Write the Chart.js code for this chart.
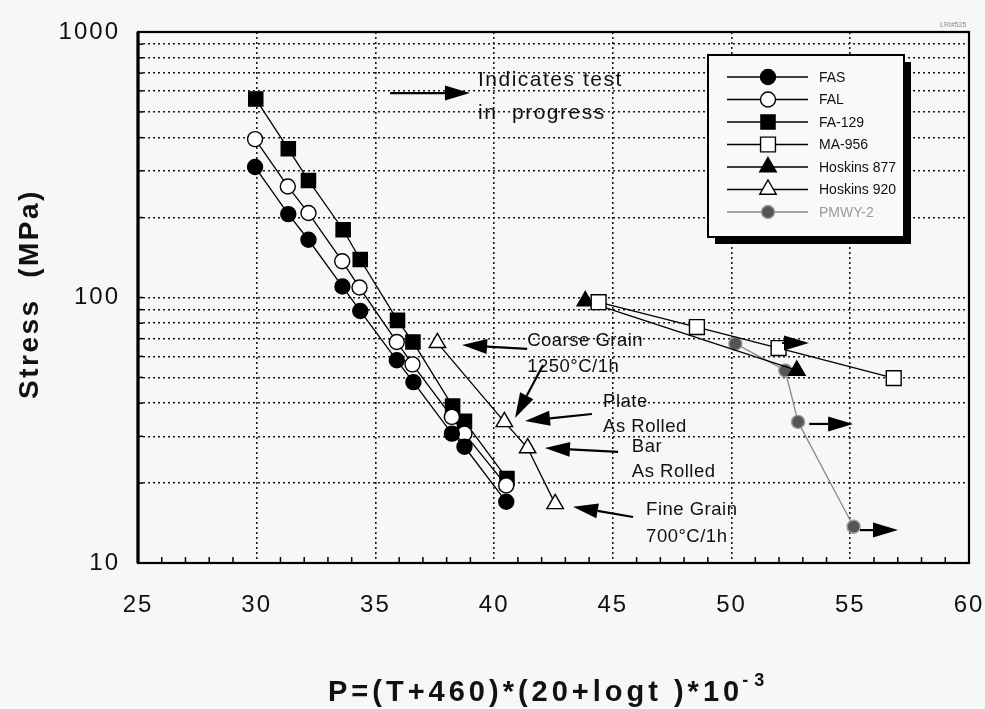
<!DOCTYPE html>
<html><head><meta charset="utf-8">
<script src="https://cdn.jsdelivr.net/npm/chart.js@4.4.1/dist/chart.umd.min.js"></script>
<style>html,body{margin:0;padding:0;background:#f7f7f7;}#wrap{width:985px;height:709px;}</style>
</head><body><div id="wrap"><canvas id="c" width="985" height="709"></canvas></div>
<script>
// ---------- data ----------
const xTicks = [25, 30, 35, 40, 45, 50, 55, 60];
const yTickLabels = [10, 100, 1000];
const yGrid = [10, 20, 30, 40, 50, 60, 70, 80, 90, 100, 200, 300, 400, 500, 600, 700, 800, 900, 1000];
const seriesNames = ['FAS', 'FAL', 'FA-129', 'MA-956', 'Hoskins 877', 'Hoskins 920', 'PMWY-2'];

const fasX = [29.93, 31.33, 32.18, 33.61, 34.36, 35.9, 36.6, 38.22, 38.75, 40.51];
const fasY = [310, 206, 165, 110, 89, 58, 48, 30.7, 27.4, 17.0];
const falX = [29.93, 31.31, 32.18, 33.6, 34.33, 35.9, 36.56, 38.22, 38.75, 40.51];
const falY = [395, 262, 208, 137, 109, 68, 56, 35.5, 30.7, 19.6];
const fa129X = [29.96, 31.33, 32.18, 33.64, 34.36, 35.93, 36.58, 38.25, 38.75, 40.54];
const fa129Y = [559, 363, 276, 180, 139, 82, 68, 39, 34.2, 20.8];
const ma956X = [44.4, 48.54, 51.98, 56.83];
const ma956Y = [96, 77.4, 64.5, 49.7];
const h877X = [43.84, 52.75];
const h877Y = [97, 53.1];
const h920X = [37.61, 40.43, 41.41, 42.57];
const h920Y = [67.5, 34, 27.1, 16.7];
const pmX = [50.16, 52.26, 52.8, 55.14];
const pmY = [67, 53.1, 34, 13.7];

const xTitle = 'P=(T+460)*(20+logt )*10';
const xTitleSup = '-3';
const yTitle = 'Stress  (MPa)';

// annotation texts (data coordinates)
const noteTexts = ['Indicates test', 'in  progress', 'Coarse Grain', '1250°C/1h', 'Plate', 'As Rolled', 'Bar', 'As Rolled', 'Fine Grain', '700°C/1h'];
const noteX = [39.32, 39.32, 41.39, 41.39, 44.59, 44.59, 45.8, 45.8, 46.4, 46.4];
const noteY = [659, 495, 68.6, 54.7, 40.4, 32.5, 27.35, 22.0, 15.8, 12.5];
// arrows: tail -> tip (data coordinates)
const arrowX1 = [35.62, 52.13, 53.27, 55.41, 41.39, 42.06, 44.12, 45.22, 45.85];
const arrowY1 = [589, 67.4, 33.4, 13.3, 64.0, 55.7, 36.4, 26.2, 14.9];
const arrowX2 = [38.98, 53.26, 55.12, 57.01, 38.65, 40.88, 41.30, 42.14, 43.32];
const arrowY2 = [589, 67.4, 33.4, 13.3, 66.2, 35.2, 34.3, 27.1, 16.3];

// ---------- build ----------
const FONT = "'Liberation Sans', Arial, Helvetica, sans-serif";
const pts = (xs, ys) => xs.map((x, i) => ({x: x, y: ys[i]}));
function ds(i, xs, ys, style, fill, radius, lineColor, borderColor) {
  return {
    label: seriesNames[i], data: pts(xs, ys), showLine: true,
    borderColor: lineColor, borderWidth: 1.3,
    pointStyle: style, pointRadius: radius, pointHoverRadius: radius,
    pointBackgroundColor: fill, pointBorderColor: borderColor || '#000', pointBorderWidth: 1.4,
    order: i
  };
}
const datasets = [
  ds(0, fasX, fasY, 'circle', '#000', 7.5, '#000'),
  ds(1, falX, falY, 'circle', '#fff', 7.5, '#000'),
  ds(2, fa129X, fa129Y, 'rect', '#000', 10, '#000'),
  ds(3, ma956X, ma956Y, 'rect', '#fff', 10.5, '#000'),
  ds(4, h877X, h877Y, 'triangle', '#000', 9.5, '#000'),
  ds(5, h920X, h920Y, 'triangle', '#fff', 9.5, '#000'),
  ds(6, pmX, pmY, 'circle', '#555', 6.5, '#8a8a8a', '#999')
];

function arrow(ctx, x1, y1, x2, y2) {
  const ang = Math.atan2(y2 - y1, x2 - x1);
  const hl = 25, hw = 7.5;
  const bx = x2 - hl * Math.cos(ang), by = y2 - hl * Math.sin(ang);
  ctx.save();
  ctx.strokeStyle = '#000'; ctx.fillStyle = '#000'; ctx.lineWidth = 2.2;
  ctx.beginPath(); ctx.moveTo(x1, y1); ctx.lineTo(bx, by); ctx.stroke();
  ctx.beginPath();
  ctx.moveTo(x2, y2);
  ctx.lineTo(bx + hw * Math.sin(ang), by - hw * Math.cos(ang));
  ctx.lineTo(bx - hw * Math.sin(ang), by + hw * Math.cos(ang));
  ctx.closePath(); ctx.fill();
  ctx.restore();
}

const decor = {
  id: 'decor',
  beforeDraw(chart) {
    const ctx = chart.ctx;
    ctx.save(); ctx.fillStyle = '#f7f7f7'; ctx.fillRect(0, 0, chart.width, chart.height); ctx.restore();
    ctx.letterSpacing = '2px';
  },
  beforeDatasetsDraw(chart) {
    const ctx = chart.ctx; ctx.letterSpacing = '0px';
    const a = chart.chartArea, xs = chart.scales.x, ys = chart.scales.y;
    ctx.save();
    ctx.strokeStyle = '#000'; ctx.lineWidth = 1.5;
    for (let v = xs.min + 1; v < xs.max; v++) {
      if (v % 5 === 0) continue;
      const px = xs.getPixelForValue(v);
      ctx.beginPath(); ctx.moveTo(px, a.bottom); ctx.lineTo(px, a.bottom - 6); ctx.stroke();
    }
    yGrid.forEach(v => {
      const py = ys.getPixelForValue(v);
      ctx.beginPath(); ctx.moveTo(a.left, py); ctx.lineTo(a.left + 5, py); ctx.stroke();
    });
    ctx.lineWidth = 2.2; ctx.strokeRect(a.left, a.top, a.right - a.left, a.bottom - a.top);
    ctx.lineWidth = 3.2; ctx.beginPath(); ctx.moveTo(a.left, a.top); ctx.lineTo(a.left, a.bottom); ctx.stroke();
    ctx.restore();
  },
  afterDatasetsDraw(chart) {
    const ctx = chart.ctx, xs = chart.scales.x, ys = chart.scales.y;
    ctx.save();
    ctx.fillStyle = '#111'; ctx.textAlign = 'left'; ctx.textBaseline = 'middle';
    noteTexts.forEach((t, i) => {
      if (i < 2) { ctx.font = '21px ' + FONT; ctx.letterSpacing = '1.5px'; }
      else { ctx.font = '18.5px ' + FONT; ctx.letterSpacing = '0.5px'; }
      ctx.fillText(t, xs.getPixelForValue(noteX[i]), ys.getPixelForValue(noteY[i]));
    });
    ctx.letterSpacing = '0px';
    ctx.restore();
    arrowX1.forEach((v, i) => arrow(ctx, xs.getPixelForValue(v), ys.getPixelForValue(arrowY1[i]),
      xs.getPixelForValue(arrowX2[i]), ys.getPixelForValue(arrowY2[i])));

    // legend box
    const L = 708, T = 55, W = 196, H = 182;
    ctx.save();
    ctx.fillStyle = '#000'; ctx.fillRect(L + 7, T + 7, W, H);
    ctx.fillStyle = '#f9f9f9'; ctx.fillRect(L, T, W, H);
    ctx.strokeStyle = '#000'; ctx.lineWidth = 2; ctx.strokeRect(L, T, W, H);
    chart.data.datasets.forEach((d, i) => {
      const y = T + 22 + i * 22.5;
      ctx.strokeStyle = d.borderColor; ctx.lineWidth = 1.3;
      ctx.beginPath(); ctx.moveTo(L + 19, y); ctx.lineTo(L + 100, y); ctx.stroke();
      ctx.fillStyle = d.pointBackgroundColor; ctx.strokeStyle = d.pointBorderColor; ctx.lineWidth = d.pointBorderWidth;
      Chart.helpers.drawPoint(ctx, {pointStyle: d.pointStyle, rotation: 0, radius: d.pointRadius, borderWidth: d.pointBorderWidth}, L + 60, y);
      ctx.fillStyle = i === 6 ? '#9a9a9a' : '#111';
      ctx.font = '14px ' + FONT; ctx.textAlign = 'left'; ctx.textBaseline = 'middle';
      ctx.fillText(d.label, L + 111, y + 1);
    });
    ctx.restore();
  },
  afterDraw(chart) {
    const ctx = chart.ctx;
    ctx.save();
    ctx.fillStyle = '#111';
    // x title
    ctx.font = 'bold 29px ' + FONT; ctx.letterSpacing = '4px';
    ctx.textAlign = 'left'; ctx.textBaseline = 'alphabetic';
    const x0 = 328;
    ctx.fillText(xTitle, x0, 701);
    const w = ctx.measureText(xTitle).width;
    ctx.font = 'bold 18px ' + FONT; ctx.letterSpacing = '6px';
    ctx.fillText(xTitleSup, x0 + w - 1, 686);
    // y title
    ctx.font = 'bold 28px ' + FONT; ctx.letterSpacing = '2.5px';
    ctx.translate(38, 294); ctx.rotate(-Math.PI / 2);
    ctx.textAlign = 'center'; ctx.textBaseline = 'alphabetic';
    ctx.fillText(yTitle, 0, 0);
    ctx.restore();
    ctx.save();
    ctx.letterSpacing = '0px';
    ctx.fillStyle = '#888'; ctx.font = '7px ' + FONT; ctx.textAlign = 'left'; ctx.textBaseline = 'middle';
    ctx.fillText('LRI#525', 940, 25);
    ctx.restore();
  }
};

new Chart(document.getElementById('c'), {
  type: 'scatter',
  data: {datasets: datasets},
  options: {
    responsive: false, animation: false, devicePixelRatio: 1,
    layout: {padding: {left: 0, right: 16, top: 32, bottom: 0}},
    plugins: {legend: {display: false}, tooltip: {enabled: false}, title: {display: false}},
    elements: {line: {tension: 0}},
    scales: {
      x: {
        type: 'linear', min: xTicks[0], max: xTicks[xTicks.length - 1],
        afterFit(s) { s.height = 146; s.paddingLeft = 0; s.paddingRight = 0; },
        afterBuildTicks(s) { s.ticks = xTicks.map(v => ({value: v})); },
        ticks: {color: '#111', font: {family: FONT, size: 24}, padding: 28, autoSkip: false, maxRotation: 0,
          callback: v => String(v)},
        grid: {color: '#1a1a1a', lineWidth: 1.6, drawTicks: false},
        border: {display: false, dash: [2, 3]}
      },
      y: {
        type: 'logarithmic', min: yGrid[0], max: yGrid[yGrid.length - 1],
        afterFit(s) { s.width = 138; s.paddingTop = 0; s.paddingBottom = 0; },
        afterBuildTicks(s) { s.ticks = yGrid.map(v => ({value: v, major: yTickLabels.includes(v)})); },
        ticks: {color: '#111', font: {family: FONT, size: 24}, padding: 18, autoSkip: false,
          callback: v => yTickLabels.includes(v) ? String(v) : ''},
        grid: {color: '#1a1a1a', lineWidth: 1.6, drawTicks: false},
        border: {display: false, dash: [2, 3]}
      }
    }
  },
  plugins: [decor]
});
</script>
</body></html>
